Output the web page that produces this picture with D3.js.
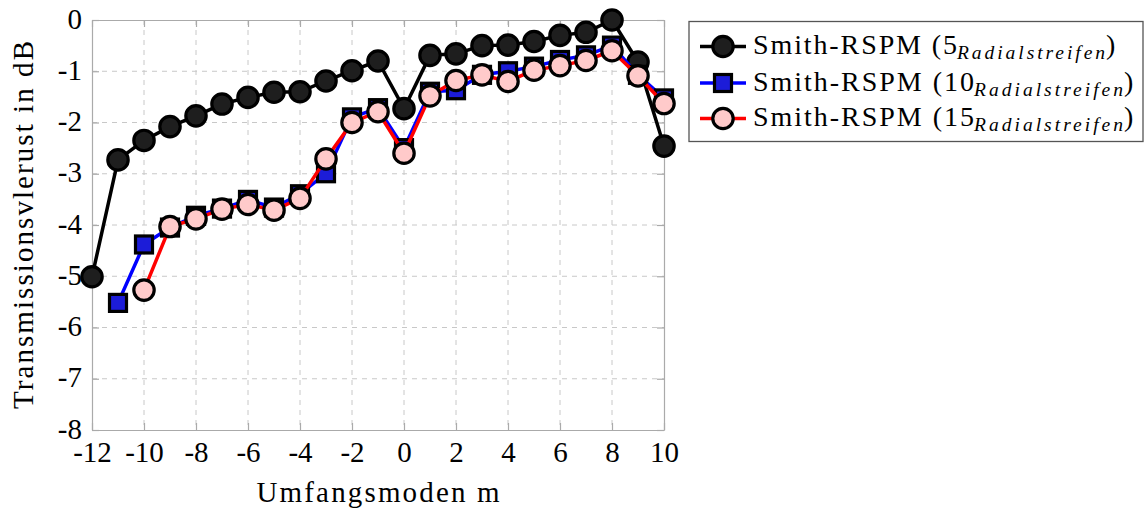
<!DOCTYPE html>
<html>
<head>
<meta charset="utf-8">
<script src="https://cdn.jsdelivr.net/npm/d3@7"></script>
<style>
html,body{margin:0;padding:0;background:#fff;}
text{font-family:"Liberation Serif","Times New Roman",serif;fill:#000;}
</style>
</head>
<body>
<svg id="chart" width="1146" height="511"></svg>
<script>
// ---- data ----
const modes5  = [-12,-11,-10,-9,-8,-7,-6,-5,-4,-3,-2,-1,0,1,2,3,4,5,6,7,8,9,10];
const loss5   = [-5.01,-2.73,-2.35,-2.08,-1.87,-1.64,-1.51,-1.41,-1.40,-1.19,-0.99,-0.80,-1.73,-0.69,-0.66,-0.50,-0.49,-0.42,-0.30,-0.24,0.0,-0.82,-2.46];
const modes10 = [-11,-10,-9,-8,-7,-6,-5,-4,-3,-2,-1,0,1,2,3,4,5,6,7,8,9,10];
const loss10  = [-5.52,-4.38,-4.05,-3.82,-3.68,-3.51,-3.66,-3.40,-2.99,-1.90,-1.72,-2.50,-1.40,-1.37,-1.07,-1.00,-0.91,-0.78,-0.69,-0.50,-1.07,-1.53];
const modes15 = [-10,-9,-8,-7,-6,-5,-4,-3,-2,-1,0,1,2,3,4,5,6,7,8,9,10];
const loss15  = [-5.27,-4.03,-3.88,-3.69,-3.60,-3.71,-3.48,-2.71,-2.00,-1.79,-2.60,-1.48,-1.18,-1.07,-1.20,-0.98,-0.89,-0.79,-0.60,-1.09,-1.63];
const xTicks = [-12,-10,-8,-6,-4,-2,0,2,4,6,8,10];
const yTicks = [0,-1,-2,-3,-4,-5,-6,-7,-8];
const seriesNames = ["Smith-RSPM (5", "Smith-RSPM (10", "Smith-RSPM (15"];
const seriesSub = "Radialstreifen";
const xTitle = "Umfangsmoden m";
const yTitle = "Transmissionsvlerust in dB";

// ---- layout ----
const L = 92, R = 664, T = 20, B = 430;
const svg = d3.select("#chart");
const x = d3.scaleLinear().domain([-12, 10]).range([L, R]);
const y = d3.scaleLinear().domain([-8, 0]).range([B, T]);

const gridColor = "#c8c8c8";
// grid
const g = svg.append("g");
g.selectAll("line.vg").data(xTicks.filter(d => d > -12 && d < 10)).join("line")
  .attr("x1", d => x(d)).attr("x2", d => x(d)).attr("y1", T).attr("y2", B)
  .attr("stroke", gridColor).attr("stroke-width", 1).attr("stroke-dasharray", "5,5");
g.selectAll("line.hg").data(yTicks.filter(d => d > -8 && d < 0)).join("line")
  .attr("x1", L).attr("x2", R).attr("y1", d => y(d)).attr("y2", d => y(d))
  .attr("stroke", gridColor).attr("stroke-width", 1).attr("stroke-dasharray", "5,5");

// axes (inner ticks on all sides)
const tickCol = "#aaaaaa";
const fmt = d => d < 0 ? "-" + Math.abs(d) : String(d);
const axB = svg.append("g").attr("transform", `translate(0,${B})`)
  .call(d3.axisBottom(x).tickValues(xTicks).tickSizeInner(-7).tickSizeOuter(0).tickFormat(fmt));
const axT = svg.append("g").attr("transform", `translate(0,${T})`)
  .call(d3.axisTop(x).tickValues(xTicks).tickSizeInner(-7).tickSizeOuter(0).tickFormat(""));
const axL = svg.append("g").attr("transform", `translate(${L},0)`)
  .call(d3.axisLeft(y).tickValues(yTicks).tickSizeInner(-7).tickSizeOuter(0).tickFormat(fmt));
const axR = svg.append("g").attr("transform", `translate(${R},0)`)
  .call(d3.axisRight(y).tickValues(yTicks).tickSizeInner(-7).tickSizeOuter(0).tickFormat(""));
[axB, axT, axL, axR].forEach(a => {
  a.select(".domain").attr("stroke", tickCol).attr("stroke-width", 1.2);
  a.selectAll(".tick line").attr("stroke", tickCol).attr("stroke-width", 1.2);
});
axB.selectAll(".tick text").attr("font-size", 29).attr("font-family", "Liberation Serif").attr("fill", "#000")
  .attr("y", 0).attr("dy", 32);
axL.selectAll(".tick text").attr("font-size", 29).attr("font-family", "Liberation Serif").attr("fill", "#000")
  .attr("x", -10).attr("dy", "0.28em");

// titles
svg.append("text").attr("x", 378).attr("y", 502).attr("text-anchor", "middle")
  .attr("font-size", 29).attr("textLength", 243).attr("lengthAdjust", "spacing").text(xTitle);
svg.append("text").attr("transform", `translate(33,${(T + B) / 2}) rotate(-90)`).attr("text-anchor", "middle")
  .attr("font-size", 29).attr("textLength", 368).attr("lengthAdjust", "spacing").text(yTitle);

// series
const lw = 3.5;
function drawLine(xs, ys, color) {
  const pts = xs.map((d, i) => [x(d), y(ys[i])]);
  svg.append("path").attr("d", d3.line()(pts)).attr("fill", "none")
    .attr("stroke", color).attr("stroke-width", lw).attr("stroke-linejoin", "round");
}
function circles(xs, ys, fill) {
  svg.append("g").selectAll("circle").data(xs).join("circle")
    .attr("cx", d => x(d)).attr("cy", (d, i) => y(ys[i])).attr("r", 10.2)
    .attr("fill", fill).attr("stroke", "#000").attr("stroke-width", 3.2);
}
function squares(xs, ys, fill) {
  svg.append("g").selectAll("rect").data(xs).join("rect")
    .attr("x", d => x(d) - 8.5).attr("y", (d, i) => y(ys[i]) - 8.5).attr("width", 17).attr("height", 17)
    .attr("fill", fill).attr("stroke", "#000").attr("stroke-width", 3.2);
}
const fill5 = "#1e1e1e", fill10 = "#1c1cd8", fill15 = "#ffcaca";
drawLine(modes5, loss5, "#000"); circles(modes5, loss5, fill5);
drawLine(modes10, loss10, "#0000ff"); squares(modes10, loss10, fill10);
drawLine(modes15, loss15, "#ff0000"); circles(modes15, loss15, fill15);

// legend
const lg = svg.append("g");
lg.append("rect").attr("x", 689).attr("y", 21.5).attr("width", 454).attr("height", 120)
  .attr("fill", "#fff").attr("stroke", "#555").attr("stroke-width", 1.3);
const rows = [
  {cy: 46.5, color: "#000", fill: fill5, shape: "c", wMain: 204, wSub: 148},
  {cy: 83, color: "#0000ff", fill: fill10, shape: "s", wMain: 221, wSub: 149},
  {cy: 118.5, color: "#ff0000", fill: fill15, shape: "c", wMain: 221, wSub: 149}
];
rows.forEach((r, i) => {
  lg.append("line").attr("x1", 700).attr("x2", 746).attr("y1", r.cy).attr("y2", r.cy)
    .attr("stroke", r.color).attr("stroke-width", lw);
  if (r.shape === "c") {
    lg.append("circle").attr("cx", 723).attr("cy", r.cy).attr("r", 10.2).attr("fill", r.fill)
      .attr("stroke", "#000").attr("stroke-width", 3.2);
  } else {
    lg.append("rect").attr("x", 723 - 8.5).attr("y", r.cy - 8.5).attr("width", 17).attr("height", 17)
      .attr("fill", r.fill).attr("stroke", "#000").attr("stroke-width", 3.2);
  }
  const base = r.cy + 7.5;
  lg.append("text").attr("x", 753).attr("y", base).attr("font-size", 28)
    .attr("textLength", r.wMain).attr("lengthAdjust", "spacing").text(seriesNames[i]);
  lg.append("text").attr("x", 753 + r.wMain).attr("y", base + 5).attr("font-size", 19.5)
    .attr("font-style", "italic").attr("textLength", r.wSub).attr("lengthAdjust", "spacing").text(seriesSub);
  lg.append("text").attr("x", 753 + r.wMain + r.wSub + 1).attr("y", base).attr("font-size", 28).text(")");
});
</script>
</body>
</html>
